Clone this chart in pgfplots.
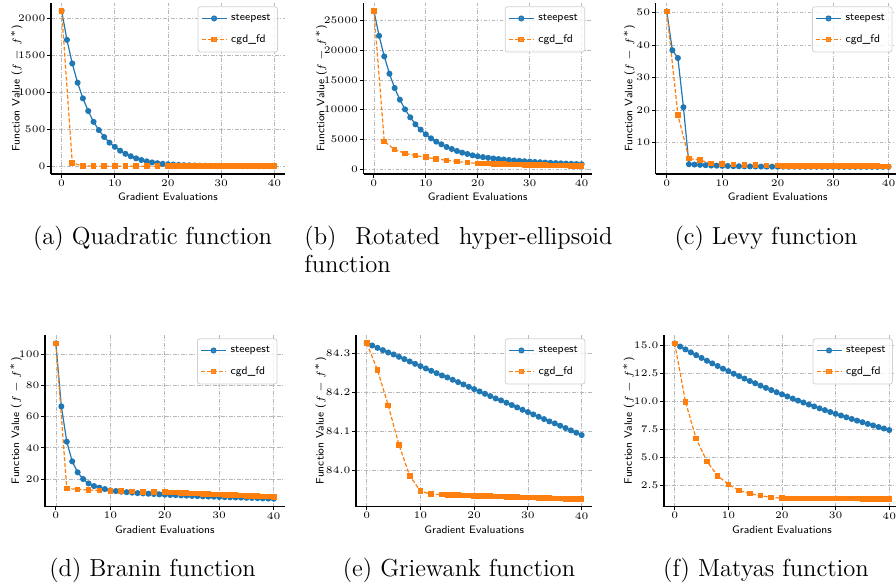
\documentclass[border=0pt]{standalone}
\usepackage{pgfplots}
\pgfplotsset{compat=1.18}

\definecolor{c0}{HTML}{1F77B4}
\definecolor{c1}{HTML}{FF7F0E}

\pgfplotsset{
  sub/.style={
    scale only axis,
    xmin=-2, xmax=42,
    xtick={0,10,20,30,40},
    axis x line*=bottom, axis y line*=left,
    axis line style={line width=0.6pt, black},
    tick align=outside,
    major tick length=1.8pt,
    tick style={line width=0.45pt, black},
    grid=major,
    major grid style={black!28, line width=0.35pt, dash pattern=on 1.8pt off 0.9pt on 0.4pt off 0.9pt},
    tick label style={font=\fontsize{5}{6}\selectfont, inner sep=0.8pt, /pgf/number format/assume math mode=true},
    label style={font=\sffamily\fontsize{5.4}{6.5}\selectfont},
    xlabel={Gradient Evaluations},
    ylabel={Function Value ($f - f^*$)},
    xlabel style={at={(axis description cs:0.5,-0.132)}, anchor=center},
    scaled y ticks=false,
    /pgf/number format/1000 sep={},
    legend cell align=left,
    legend style={at={(rel axis cs:0.97,0.98)}, anchor=north east,
      draw=black!18, rounded corners=1.2pt, fill=white, fill opacity=0.8, text opacity=1,
      font=\sffamily\fontsize{5.5}{6.5}\selectfont, inner sep=1.5pt, row sep=1.6pt},
    legend image code/.code={
      \draw[mark repeat=2,mark phase=2] plot coordinates {(0cm,0cm) (0.22cm,0cm) (0.44cm,0cm)};},
  },
  ylab/.style={ylabel style={at={(axis description cs:-#1,0.5)}, anchor=center}},
  st/.style={color=c0, line width=0.6pt, mark=*, mark size=1.2pt, mark options={solid}},
  cg/.style={color=c1, line width=0.6pt, dash pattern=on 2pt off 1pt, mark=square*, mark size=1.1pt, mark options={solid}},
}

\begin{document}
\begin{tikzpicture}
\useasboundingbox (0,0) rectangle (448pt,-293.5pt);

% (a) Quadratic
\begin{axis}[sub, ylab=0.147, at={(25.5pt,-87pt)}, anchor=south west, width=117pt, height=85.5pt,
  ymin=-105, ymax=2205, ytick={0,500,1000,1500,2000}]
\addplot[st] coordinates {(0,2100) (1,1707) (2,1388) (3,1128) (4,917) (5,746) (6,600) (7,488) (8,395) (9,318) (10,262) (11,210) (12,168) (13,135) (14,106) (15,84) (16,66) (17,52) (18,41) (19,33) (20,27) (21,22) (22,18) (23,14) (24,12) (25,9.5) (26,7.7) (27,6.2) (28,5.0) (29,4.1) (30,3.3) (31,2.7) (32,2.2) (33,1.8) (34,1.4) (35,1.2) (36,0.9) (37,0.8) (38,0.6) (39,0.5) (40,0.4)};
\addplot[cg] coordinates {(0,2100) (2,45) (4,3) (6,1.5) (8,1) (10,0.8) (12,0.6) (14,0.5) (16,0.4) (18,0.3) (20,0.3) (21,0.3) (22,0.3) (23,0.2) (24,0.2) (25,0.2) (26,0.2) (27,0.2) (28,0.2) (29,0.2) (30,0.2) (31,0.2) (32,0.2) (33,0.2) (34,0.2) (35,0.2) (36,0.2) (37,0.2) (38,0.2) (39,0.2) (40,0.2)};
\legend{steepest, cgd\_fd}
\end{axis}

% (b) Rotated hyper-ellipsoid
\begin{axis}[sub, ylab=0.184, at={(181.75pt,-87pt)}, anchor=south west, width=114.25pt, height=85.5pt,
  ymin=-850, ymax=28000, ytick={0,5000,10000,15000,20000,25000}]
\addplot[st] coordinates {(0,26690) (1,22470) (2,18990) (3,16070) (4,13650) (5,11690) (6,10060) (7,8710) (8,7530) (9,6630) (10,5840) (11,5170) (12,4610) (13,4160) (14,3710) (15,3370) (16,3030) (17,2750) (18,2530) (19,2300) (20,2140) (21,2000) (22,1880) (23,1770) (24,1680) (25,1590) (26,1510) (27,1430) (28,1360) (29,1300) (30,1240) (31,1180) (32,1130) (33,1080) (34,1030) (35,990) (36,950) (37,910) (38,870) (39,830) (40,800)};
\addplot[cg] coordinates {(0,26690) (2,4660) (4,3260) (6,2640) (8,2250) (10,1970) (12,1690) (14,1460) (16,1240) (18,1070) (20,950) (21,920) (22,890) (23,860) (24,830) (25,800) (26,775) (27,750) (28,725) (29,700) (30,680) (31,660) (32,640) (33,620) (34,600) (35,585) (36,570) (37,555) (38,540) (39,525) (40,510)};
\legend{steepest, cgd\_fd}
\end{axis}

% (c) Levy
\begin{axis}[sub, ylab=0.108, at={(327.85pt,-87pt)}, anchor=south west, width=122pt, height=85.5pt,
  ymin=0.4, ymax=52.9, ytick={10,20,30,40,50}]
\addplot[st] coordinates {(0,50.3) (1,38.4) (2,36.0) (3,20.9) (4,3.4) (5,3.3) (6,3.2) (7,3.1) (8,3.0) (9,2.95) (10,2.9) (11,2.85) (12,2.8) (13,2.78) (14,2.75) (15,2.72) (16,2.7) (17,2.68) (18,2.66) (19,2.65) (20,2.64) (21,2.64) (22,2.63) (23,2.63) (24,2.63) (25,2.62) (26,2.62) (27,2.62) (28,2.61) (29,2.61) (30,2.61) (31,2.61) (32,2.6) (33,2.6) (34,2.6) (35,2.6) (36,2.6) (37,2.6) (38,2.6) (39,2.6) (40,2.6)};
\addplot[cg] coordinates {(0,50.3) (2,18.6) (4,5.1) (6,4.7) (8,3.6) (10,3.5) (12,3.3) (14,3.2) (16,3.1) (18,3.0) (20,2.95) (21,2.93) (22,2.92) (23,2.91) (24,2.9) (25,2.89) (26,2.88) (27,2.87) (28,2.86) (29,2.85) (30,2.84) (31,2.83) (32,2.82) (33,2.81) (34,2.8) (35,2.79) (36,2.78) (37,2.78) (38,2.77) (39,2.76) (40,2.75)};
\legend{steepest, cgd\_fd}
\end{axis}

% (d) Branin
\begin{axis}[sub, ylab=0.121, at={(22.5pt,-253.35pt)}, anchor=south west, width=119.8pt, height=85.85pt,
  ymin=2.3, ymax=112.2, ytick={20,40,60,80,100}]
\addplot[st] coordinates {(0,106.8) (1,66.5) (2,43.9) (3,31.3) (4,24.3) (5,20.0) (6,17.2) (7,15.5) (8,14.5) (9,13.6) (10,12.7) (11,12.3) (12,11.9) (13,11.6) (14,11.3) (15,11.0) (16,10.8) (17,10.6) (18,10.4) (19,10.2) (20,10.0) (21,9.8) (22,9.7) (23,9.5) (24,9.4) (25,9.2) (26,9.1) (27,8.9) (28,8.8) (29,8.7) (30,8.5) (31,8.4) (32,8.3) (33,8.2) (34,8.1) (35,8.0) (36,7.9) (37,7.8) (38,7.6) (39,7.5) (40,7.4)};
\addplot[cg] coordinates {(0,106.8) (2,14.0) (4,13.4) (6,13.0) (8,12.7) (10,12.5) (12,12.3) (14,11.9) (16,11.7) (18,11.7) (20,11.6) (21,11.4) (22,11.3) (23,11.1) (24,11.0) (25,10.8) (26,10.7) (27,10.5) (28,10.4) (29,10.2) (30,10.1) (31,9.9) (32,9.8) (33,9.6) (34,9.5) (35,9.3) (36,9.2) (37,9.0) (38,8.9) (39,8.7) (40,8.6)};
\legend{steepest, cgd\_fd}
\end{axis}

% (e) Griewank
\begin{axis}[sub, ylab=0.15, at={(178pt,-253.35pt)}, anchor=south west, width=118.2pt, height=85.85pt,
  ymin=83.906, ymax=84.347, ytick={84.0,84.1,84.2,84.3},
  yticklabel style={/pgf/number format/fixed, /pgf/number format/fixed zerofill, /pgf/number format/precision=1}]
\addplot[st] coordinates {(0,84.326) (1,84.320) (2,84.314) (3,84.308) (4,84.302) (5,84.297) (6,84.291) (7,84.285) (8,84.279) (9,84.273) (10,84.267) (11,84.261) (12,84.255) (13,84.249) (14,84.243) (15,84.238) (16,84.232) (17,84.226) (18,84.220) (19,84.214) (20,84.208) (21,84.202) (22,84.196) (23,84.190) (24,84.184) (25,84.179) (26,84.173) (27,84.167) (28,84.161) (29,84.155) (30,84.149) (31,84.143) (32,84.137) (33,84.131) (34,84.125) (35,84.120) (36,84.114) (37,84.108) (38,84.102) (39,84.096) (40,84.090)};
\addplot[cg] coordinates {(0,84.326) (2,84.257) (4,84.166) (6,84.065) (8,83.985) (10,83.946) (12,83.938) (14,83.9370) (15,83.9365) (16,83.9361) (17,83.9356) (18,83.9352) (19,83.9347) (20,83.9342) (21,83.9338) (22,83.9333) (23,83.9328) (24,83.9324) (25,83.9319) (26,83.9315) (27,83.9310) (28,83.9305) (29,83.9301) (30,83.9296) (31,83.9292) (32,83.9287) (33,83.9282) (34,83.9278) (35,83.9273) (36,83.9268) (37,83.9264) (38,83.9259) (39,83.9255) (40,83.9250)};
\legend{steepest, cgd\_fd}
\end{axis}

% (f) Matyas
\begin{axis}[sub, ylab=0.149, at={(332pt,-253.35pt)}, anchor=south west, width=118pt, height=85.85pt,
  ymin=0.625, ymax=15.96, ytick={2.5,5,7.5,10,12.5,15},
  yticklabel style={/pgf/number format/fixed, /pgf/number format/fixed zerofill, /pgf/number format/precision=1}]
\addplot[st] coordinates {(0,15.20) (1,14.93) (2,14.67) (3,14.41) (4,14.16) (5,13.91) (6,13.66) (7,13.42) (8,13.19) (9,12.95) (10,12.73) (11,12.50) (12,12.28) (13,12.07) (14,11.85) (15,11.65) (16,11.44) (17,11.24) (18,11.04) (19,10.85) (20,10.66) (21,10.47) (22,10.28) (23,10.10) (24,9.93) (25,9.75) (26,9.58) (27,9.41) (28,9.25) (29,9.08) (30,8.92) (31,8.77) (32,8.61) (33,8.46) (34,8.31) (35,8.17) (36,8.02) (37,7.88) (38,7.74) (39,7.61) (40,7.47)};
\addplot[cg] coordinates {(0,15.20) (2,10.0) (4,6.70) (6,4.67) (8,3.39) (10,2.62) (12,2.08) (14,1.79) (16,1.61) (18,1.46) (20,1.38) (21,1.37) (22,1.37) (23,1.36) (24,1.36) (25,1.36) (26,1.35) (27,1.35) (28,1.35) (29,1.35) (30,1.34) (31,1.34) (32,1.34) (33,1.34) (34,1.34) (35,1.33) (36,1.33) (37,1.33) (38,1.33) (39,1.33) (40,1.33)};
\legend{steepest, cgd\_fd}
\end{axis}

% captions
\begin{scope}[every node/.style={inner sep=0pt, font=\fontsize{12.3}{14.5}\selectfont}]
\node[anchor=base] at (76.25pt,-122.5pt) {(a) Quadratic function};
\node[anchor=base west] at (152pt,-122.5pt) {\hbox to 154pt{(b)\hfill Rotated\hfill hyper-ellipsoid}};
\node[anchor=base west] at (152pt,-136.25pt) {function};
\node[anchor=base] at (383pt,-122.5pt) {(c) Levy function};
\node[anchor=base] at (76.25pt,-288.25pt) {(d) Branin function};
\node[anchor=base] at (229.5pt,-288.25pt) {(e) Griewank function};
\node[anchor=base] at (383pt,-288.25pt) {(f) Matyas function};
\end{scope}
\end{tikzpicture}
\end{document}
